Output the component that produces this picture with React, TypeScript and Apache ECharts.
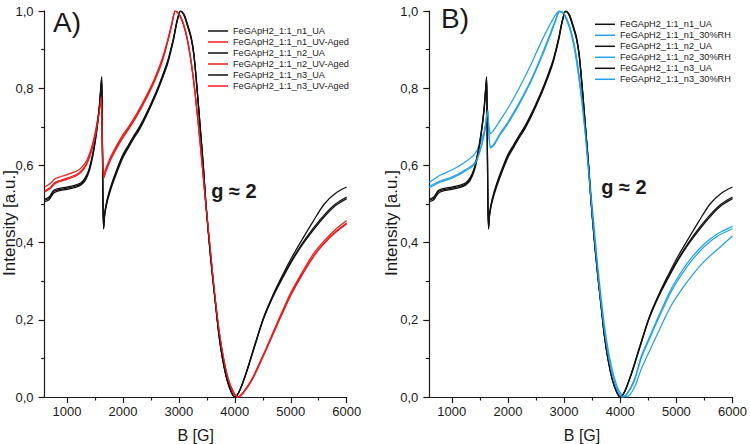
import React, { useEffect, useRef } from "react";
import * as echarts from "echarts";

// Magnetic field sweep positions [G] for each sample group
const FIELD_UA = [
  600, 680, 760, 850, 1000, 1150, 1250, 1330, 1400, 1470, 1530, 1575, 1605, 1620, 1630, 1642, 1655, 1675, 1720,
  1800, 1900, 2000, 2100, 2200, 2300, 2400, 2500, 2600, 2700, 2800, 2900, 2970, 3030, 3090, 3150, 3220, 3270,
  3330, 3390, 3440, 3480, 3540, 3595, 3660, 3715, 3780, 3860, 3940, 4000, 4080, 4200, 4350, 4516, 4700, 4850,
  5000, 5200, 5400, 5600, 5800, 6000,
];
const UA_N1 = [
  0.51, 0.515, 0.532, 0.537, 0.541, 0.546, 0.552, 0.566, 0.59, 0.635, 0.69, 0.745, 0.8, 0.827, 0.72, 0.52, 0.435,
  0.475, 0.51, 0.55, 0.59, 0.625, 0.65, 0.675, 0.698, 0.726, 0.757, 0.79, 0.827, 0.868, 0.925, 0.975, 1.0, 0.99,
  0.965, 0.93, 0.885, 0.79, 0.682, 0.592, 0.507, 0.405, 0.322, 0.235, 0.163, 0.1, 0.045, 0.012, 0.0, 0.014, 0.06,
  0.13, 0.205, 0.27, 0.315, 0.357, 0.407, 0.455, 0.5, 0.528, 0.544,
];
const UA_N2 = [
  0.506, 0.511, 0.528, 0.534, 0.538, 0.543, 0.549, 0.562, 0.586, 0.63, 0.686, 0.742, 0.796, 0.822, 0.715, 0.515,
  0.438, 0.472, 0.506, 0.545, 0.585, 0.62, 0.646, 0.671, 0.694, 0.722, 0.753, 0.786, 0.823, 0.864, 0.922, 0.973,
  1.0, 0.992, 0.968, 0.933, 0.888, 0.793, 0.685, 0.594, 0.509, 0.407, 0.324, 0.237, 0.165, 0.102, 0.047, 0.013,
  0.0, 0.015, 0.062, 0.132, 0.207, 0.268, 0.31, 0.35, 0.397, 0.437, 0.472, 0.5, 0.518,
];
const UA_N3 = [
  0.513, 0.518, 0.535, 0.54, 0.544, 0.549, 0.555, 0.569, 0.593, 0.638, 0.693, 0.748, 0.803, 0.83, 0.725, 0.525,
  0.44, 0.478, 0.513, 0.553, 0.593, 0.628, 0.653, 0.678, 0.701, 0.729, 0.76, 0.793, 0.83, 0.871, 0.928, 0.977, 1.0,
  0.99, 0.963, 0.928, 0.883, 0.788, 0.68, 0.59, 0.505, 0.403, 0.32, 0.233, 0.161, 0.099, 0.044, 0.011, 0.0, 0.014,
  0.06, 0.129, 0.203, 0.265, 0.307, 0.347, 0.393, 0.432, 0.467, 0.496, 0.514,
];

const FIELD_UV = [
  600, 700, 780, 850, 1000, 1150, 1250, 1350, 1430, 1500, 1550, 1590, 1612, 1625, 1640, 1660, 1690, 1790, 1900,
  2000, 2100, 2250, 2400, 2550, 2700, 2800, 2870, 2940, 3000, 3080, 3150, 3220, 3290, 3380, 3475, 3560, 3640,
  3720, 3800, 3880, 3980, 4060, 4150, 4300, 4516, 4750, 5000, 5200, 5400, 5600, 5800, 6000,
];
const UV_N1 = [
  0.544, 0.553, 0.565, 0.569, 0.576, 0.584, 0.593, 0.612, 0.642, 0.682, 0.722, 0.76, 0.785, 0.73, 0.61, 0.575,
  0.59, 0.625, 0.655, 0.68, 0.7, 0.735, 0.775, 0.82, 0.875, 0.925, 0.965, 1.0, 0.992, 0.965, 0.925, 0.865, 0.785,
  0.657, 0.508, 0.382, 0.265, 0.168, 0.097, 0.046, 0.01, 0.0, 0.012, 0.045, 0.112, 0.19, 0.27, 0.322, 0.37, 0.405,
  0.434, 0.457,
];
const UV_N2 = [
  0.534, 0.543, 0.555, 0.56, 0.567, 0.575, 0.585, 0.605, 0.636, 0.676, 0.717, 0.755, 0.78, 0.725, 0.605, 0.57,
  0.585, 0.62, 0.65, 0.675, 0.696, 0.731, 0.771, 0.816, 0.871, 0.922, 0.963, 1.0, 0.993, 0.967, 0.928, 0.868,
  0.788, 0.66, 0.51, 0.384, 0.267, 0.17, 0.099, 0.047, 0.011, 0.0, 0.011, 0.043, 0.109, 0.186, 0.265, 0.317,
  0.364, 0.4, 0.428, 0.451,
];
const UV_N3 = [
  0.531, 0.54, 0.552, 0.557, 0.564, 0.572, 0.582, 0.602, 0.633, 0.673, 0.714, 0.752, 0.777, 0.722, 0.602, 0.567,
  0.582, 0.617, 0.647, 0.672, 0.693, 0.728, 0.768, 0.813, 0.868, 0.92, 0.962, 1.0, 0.993, 0.968, 0.929, 0.869,
  0.789, 0.661, 0.511, 0.385, 0.268, 0.171, 0.1, 0.048, 0.012, 0.0, 0.011, 0.042, 0.108, 0.184, 0.263, 0.315,
  0.362, 0.398, 0.426, 0.448,
];

const FIELD_RH = [
  600, 700, 800, 1000, 1200, 1400, 1500, 1580, 1625, 1642, 1660, 1690, 1750, 1850, 2000, 2200, 2400, 2600, 2750,
  2850, 2920, 2980, 3050, 3120, 3200, 3300, 3390, 3480, 3560, 3640, 3720, 3800, 3880, 3960, 4040, 4120, 4250,
  4381, 4550, 4700, 4900, 5100, 5264, 5500, 5736, 6000,
];
const RH_N1 = [
  0.556, 0.566, 0.575, 0.588, 0.605, 0.628, 0.655, 0.69, 0.718, 0.726, 0.7, 0.682, 0.692, 0.714, 0.748, 0.8, 0.858,
  0.922, 0.965, 0.99, 1.0, 0.995, 0.978, 0.95, 0.9, 0.8, 0.682, 0.528, 0.4, 0.283, 0.185, 0.11, 0.058, 0.022, 0.004,
  0.001, 0.024, 0.075, 0.128, 0.175, 0.235, 0.28, 0.312, 0.352, 0.383, 0.417,
];
const RH_N2 = [
  0.546, 0.553, 0.56, 0.57, 0.585, 0.605, 0.638, 0.685, 0.735, 0.745, 0.69, 0.648, 0.655, 0.68, 0.712, 0.762,
  0.818, 0.885, 0.94, 0.978, 1.0, 0.995, 0.975, 0.945, 0.89, 0.785, 0.662, 0.508, 0.38, 0.263, 0.168, 0.096, 0.045,
  0.013, 0.0, 0.009, 0.045, 0.108, 0.165, 0.215, 0.278, 0.327, 0.36, 0.397, 0.423, 0.442,
];
const RH_N3 = [
  0.542, 0.55, 0.557, 0.567, 0.582, 0.602, 0.635, 0.682, 0.73, 0.74, 0.688, 0.645, 0.652, 0.677, 0.708, 0.758,
  0.814, 0.88, 0.935, 0.975, 0.998, 0.997, 0.978, 0.948, 0.893, 0.79, 0.667, 0.513, 0.385, 0.268, 0.172, 0.099,
  0.047, 0.015, 0.0, 0.007, 0.041, 0.103, 0.16, 0.209, 0.271, 0.319, 0.352, 0.39, 0.417, 0.436,
];

const NAMES_A = [
  "FeGApH2_1:1_n1_UA",
  "FeGApH2_1:1_n1_UV-Aged",
  "FeGApH2_1:1_n2_UA",
  "FeGApH2_1:1_n2_UV-Aged",
  "FeGApH2_1:1_n3_UA",
  "FeGApH2_1:1_n3_UV-Aged",
];
const NAMES_B = [
  "FeGApH2_1:1_n1_UA",
  "FeGApH2_1:1_n1_30%RH",
  "FeGApH2_1:1_n2_UA",
  "FeGApH2_1:1_n2_30%RH",
  "FeGApH2_1:1_n3_UA",
  "FeGApH2_1:1_n3_30%RH",
];

const X_MAJOR = [1000, 2000, 3000, 4000, 5000, 6000];
const X_MINOR = [1500, 2500, 3500, 4500, 5500];

const BLACK = "#111111";
const RED = "#f21a1a";
const BLUE = "#22a2ea";
const INK = "#1a1a1a";
const FONT = "'Liberation Sans', Arial, sans-serif";

const pairs = (xs: number[], ys: number[]) => xs.map((x, i) => [x, ys[i]]);

const line = (name: string, xs: number[], ys: number[], color: string, panel: number) => ({
  type: "line",
  name,
  data: pairs(xs, ys),
  xAxisIndex: panel * 2,
  yAxisIndex: panel,
  symbol: "none",
  showSymbol: false,
  smooth: 0.3,
  silent: true,
  lineStyle: { color, width: 1.25 },
  itemStyle: { color },
});

const xAxes = (grid: number) => [
  {
    type: "value",
    gridIndex: grid,
    min: 600,
    max: 6000,
    position: "bottom",
    axisLine: { show: true, onZero: false, lineStyle: { color: INK, width: 1.2 } },
    axisTick: { show: true, length: 6, customValues: X_MAJOR, lineStyle: { color: INK, width: 1.2 } },
    axisLabel: {
      customValues: X_MAJOR,
      formatter: (v: number) => String(v),
      fontSize: 13,
      color: INK,
      margin: 8,
      fontFamily: FONT,
    },
    splitLine: { show: false },
  },
  {
    type: "value",
    gridIndex: grid,
    min: 600,
    max: 6000,
    position: "bottom",
    axisLine: { show: false, onZero: false },
    axisTick: { show: true, length: 3.5, customValues: X_MINOR, lineStyle: { color: INK, width: 1.2 } },
    axisLabel: { show: false },
    splitLine: { show: false },
  },
];

const yAxis = (grid: number) => ({
  type: "value",
  gridIndex: grid,
  min: 0,
  max: 1,
  interval: 0.2,
  axisLine: { show: true, onZero: false, lineStyle: { color: INK, width: 1.2 } },
  axisTick: { show: true, length: 6, lineStyle: { color: INK, width: 1.2 } },
  minorTick: { show: true, splitNumber: 2, length: 3.5, lineStyle: { color: INK, width: 1.2 } },
  splitLine: { show: false },
  axisLabel: {
    formatter: (v: number) => v.toFixed(1).replace(".", ","),
    fontSize: 13,
    color: INK,
    margin: 11,
    fontFamily: FONT,
  },
});

const legend = (names: string[], left: number, top: number) => ({
  data: names,
  left,
  top,
  orient: "vertical",
  icon: "rect",
  itemWidth: 20,
  itemHeight: 1.5,
  itemGap: 0,
  padding: 0,
  selectedMode: false,
  textStyle: { fontSize: 9.2, lineHeight: 11, color: INK, fontFamily: FONT },
});

const label = (text: string, x: number, y: number, size: number, weight = "normal", rotation = 0) => ({
  type: "text",
  x,
  y,
  rotation,
  silent: true,
  style: {
    text,
    fill: INK,
    fontSize: size,
    fontWeight: weight,
    fontFamily: FONT,
    textAlign: "center",
    textVerticalAlign: "middle",
    align: "center",
    verticalAlign: "middle",
  },
});

export default function App() {
  const ref = useRef<HTMLDivElement>(null);

  useEffect(() => {
    if (!ref.current) return;
    const chart = echarts.init(ref.current, undefined, { renderer: "svg" });
    chart.setOption({
      animation: false,
      backgroundColor: "#ffffff",
      grid: [
        { left: 44.6, top: 11, width: 302.1, height: 386 },
        { left: 429.3, top: 11, width: 305.7, height: 386 },
      ],
      xAxis: [...xAxes(0), ...xAxes(1)],
      yAxis: [yAxis(0), yAxis(1)],
      legend: [legend(NAMES_A, 208, 25.5), legend(NAMES_B, 595, 18.8)],
      series: [
        line(NAMES_A[0], FIELD_UA, UA_N1, BLACK, 0),
        line(NAMES_A[1], FIELD_UV, UV_N1, RED, 0),
        line(NAMES_A[2], FIELD_UA, UA_N2, BLACK, 0),
        line(NAMES_A[3], FIELD_UV, UV_N2, RED, 0),
        line(NAMES_A[4], FIELD_UA, UA_N3, BLACK, 0),
        line(NAMES_A[5], FIELD_UV, UV_N3, RED, 0),
        line(NAMES_B[0], FIELD_UA, UA_N1, BLACK, 1),
        line(NAMES_B[1], FIELD_RH, RH_N1, BLUE, 1),
        line(NAMES_B[2], FIELD_UA, UA_N2, BLACK, 1),
        line(NAMES_B[3], FIELD_RH, RH_N2, BLUE, 1),
        line(NAMES_B[4], FIELD_UA, UA_N3, BLACK, 1),
        line(NAMES_B[5], FIELD_RH, RH_N3, BLUE, 1),
      ],
      graphic: [
        label("A)", 67, 22, 28),
        label("B)", 455, 18, 28),
        label("g ≈ 2", 234, 191, 20, "bold"),
        label("g ≈ 2", 624, 187, 20, "bold"),
        label("Intensity [a.u.]", 9, 223, 17, "normal", Math.PI / 2),
        label("Intensity [a.u.]", 391, 223, 17, "normal", Math.PI / 2),
        label("B [G]", 195.6, 435, 16),
        label("B [G]", 582, 435, 16),
      ],
    });
    return () => chart.dispose();
  }, []);

  return <div ref={ref} style={{ position: "absolute", left: 0, top: 0, width: 750, height: 444 }} />;
}
